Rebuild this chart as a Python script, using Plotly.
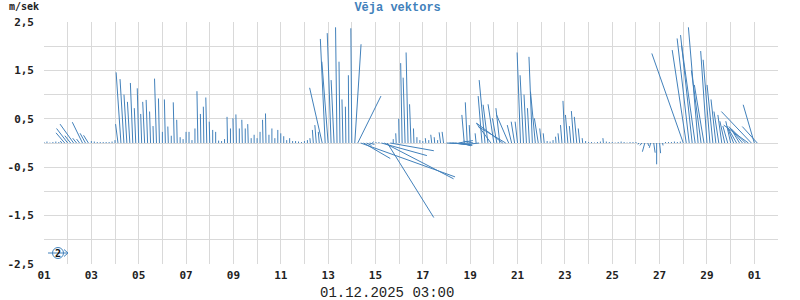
import pandas as pd
import plotly.graph_objects as go

# ---------------- data ----------------
START = "2025-11-01 00:00"   # first observation
STEP_H = 3                    # hours between observations

# northward component (m/s), 8 observations per day
V = [
    0.02, 0.03, 0.01, 0.02, 0.03, 0.02, 0.04, 0.21,   # 01
    0.30, 0.15, 0.39, 0.10, 0.08, 0.43, 0.20, 0.16,   # 02
    0.04, 0.03, 0.02, 0.02, 0.02, 0.02, 0.02, 0.03,   # 03
    0.06, 0.39, 1.46, 1.32, 1.00, 0.85, 1.24, 0.72,   # 04
    1.13, 0.60, 0.85, 0.89, 0.65, 0.35, 1.33, 0.92,   # 05
    0.23, 0.90, 0.34, 0.15, 0.84, 0.48, 0.12, 0.08,   # 06
    0.23, 0.23, 0.06, 0.30, 1.07, 0.60, 0.75, 0.94,   # 07
    0.44, 0.27, 0.23, 0.05, 0.04, 0.08, 0.54, 0.30,   # 08
    0.51, 0.59, 0.30, 0.48, 0.30, 0.39, 0.10, 0.17,   # 09
    0.10, 0.23, 0.48, 0.61, 0.17, 0.30, 0.10, 0.27,   # 10
    0.20, 0.14, 0.06, 0.10, 0.04, 0.04, 0.03, 0.02,   # 11
    0.04, 0.06, 0.10, 0.27, 0.37, 0.23, 1.14, 2.15,   # 12
    1.68, 2.27, 1.30, 2.39, 1.68, 0.90, 0.75, 1.40,   # 13
    2.37, 2.04, 0.97, -0.70, -0.32, -0.05, -0.03, 0.03,  # 14
    0.02, 0.02, -0.26, -0.74, -1.54, -0.16, 0.08, 0.20,  # 15
    0.50, 1.65, 1.35, 1.87, 0.80, 0.30, 0.12, 0.06,   # 16
    0.04, 0.10, 0.06, 0.17, 0.12, 0.06, 0.22, 0.23,   # 17
    -0.02, -0.03, -0.04, -0.05, 0.05, -0.06, 0.58, 0.84,  # 18
    0.37, 0.04, 0.20, -0.03, 0.97, 1.30, 0.79, 0.41,  # 19
    0.80, 0.51, 0.72, 0.41, 0.34, 0.58, 0.37, 0.44,   # 20
    0.44, 1.87, 1.40, 1.00, 0.72, 1.78, 1.06, 0.51,   # 21
    0.30, 0.20, 0.04, 0.03, 0.06, 0.13, 0.20, 0.37,   # 22
    0.87, 0.58, 0.35, 0.66, 0.54, 0.30, 0.10, 0.04,   # 23
    0.02, 0.02, 0.01, 0.02, 0.03, 0.10, 0.03, 0.02,   # 24
    0.02, 0.01, 0.02, 0.03, 0.02, 0.01, 0.02, 0.02,   # 25
    0.02, -0.03, -0.05, -0.18, -0.06, -0.10, -0.20, -0.44,  # 26
    -0.21, -0.05, 0.02, 0.02, 0.02, 0.03, 0.02, 0.03,  # 27
    1.85, 1.92, 2.16, 2.23, 2.02, 2.39, 1.50, 1.20,   # 28
    1.90, 1.72, 1.20, 0.90, 0.65, 0.58, 0.45, 0.35,   # 29
    0.45, 0.30, 0.35, 0.25, 0.34, 0.30, 0.37, 0.65,   # 30
    0.79, 0.34,                                       # 01.12
]

# eastward component (m/s)
U = [
    0, 0, 0, 0, 0, 0, -0.03, -0.18,
    -0.23, -0.12, -0.28, -0.08, -0.06, -0.21, -0.11, -0.10,
    0, 0, 0, 0, 0, 0, 0, 0,
    0, -0.05, -0.10, -0.08, -0.06, -0.05, -0.05, -0.03,
    -0.03, -0.02, -0.04, -0.03, -0.02, -0.01, -0.04, -0.02,
    0, -0.02, -0.01, 0, -0.02, -0.01, 0, 0,
    0, 0, 0, 0, -0.02, -0.01, -0.01, -0.02,
    -0.01, 0, 0, 0, 0, 0, -0.01, 0,
    -0.01, -0.01, 0, -0.01, 0, -0.01, 0, 0,
    0, 0, -0.01, -0.01, 0, 0, 0, 0,
    0, 0, 0, 0, 0, 0, 0, 0,
    0, 0, -0.01, -0.02, -0.03, -0.02, -0.26, -0.10,
    -0.13, -0.08, -0.06, -0.03, -0.02, -0.02, -0.01, -0.01,
    -0.02, 0.13, 0.48, 1.95, 0.55, 0.10, 0.10, 0.02,
    0.02, 0.02, 0.94, 1.43, 0.96, 0.90, 0, -0.01,
    -0.01, -0.03, -0.04, -0.04, -0.03, -0.01, 0, 0,
    0, -0.01, 0, -0.02, -0.01, 0, -0.03, -0.03,
    0.50, 0.45, 0.40, 0.35, 0.30, 0.20, -0.05, -0.04,
    -0.02, -0.20, -0.02, -0.25, -0.08, -0.12, -0.10, -0.30,
    -0.12, -0.09, -0.08, -0.54, -0.57, -0.25, -0.09, -0.07,
    -0.05, -0.07, -0.07, -0.05, -0.04, -0.07, -0.10, -0.08,
    -0.03, -0.02, 0, 0, 0, -0.01, -0.02, -0.03,
    -0.04, -0.05, -0.03, -0.05, -0.05, -0.03, -0.01, 0,
    0, 0, 0, 0, 0, -0.01, 0, 0,
    0, 0, 0, 0, 0, 0, 0, 0,
    0, -0.02, -0.04, -0.05, 0.02, -0.03, 0.03, 0,
    0.02, 0.01, 0, 0, 0, 0, 0, 0,
    -0.65, -0.29, -0.25, -0.24, -0.28, -0.20, -0.20, -0.20,
    -0.13, -0.14, -0.12, -0.10, -0.10, -0.08, -0.10, -0.10,
    -0.10, -0.12, -0.20, -0.15, -0.28, -0.30, -0.51, -0.62,
    -0.23, -0.31,
]

X_RANGE = ["2025-11-01", "2025-12-02"]
Y_TICKS = [-2.5, -1.5, -0.5, 0.5, 1.5, 2.5]
Y_TICKTEXT = ["-2,5", "-1,5", "-0,5", "0,5", "1,5", "2,5"]
TITLE = "Vēja vektors"
UNIT = "m/sek"
STAMP = "01.12.2025 03:00"
SCALE_LABEL = "2"

# ---------------- build sticks ----------------
LINE_COLOR = "#4281bb"
GRID = "#d9d9d9"
# horizontal scale: days of time axis per 1 m/s (isotropic with the y axis)
K = pd.Timedelta(days=2.044)

times = pd.date_range(START, periods=len(V), freq=f"{STEP_H}h")
xs, ys = [], []
for t, u, v in zip(times, U, V):
    xs += [t, t + K * u, None]
    ys += [0, v, None]

fig = go.Figure()
fig.add_trace(go.Scatter(x=xs, y=ys, mode="lines",
                         line=dict(color=LINE_COLOR, width=1),
                         hoverinfo="skip", showlegend=False))

tickfont = dict(family="DejaVu Sans Mono", size=11, color="#222222", weight="bold")

fig.update_layout(
    width=800, height=300,
    margin=dict(l=44, r=22, t=22, b=36, autoexpand=False),
    paper_bgcolor="white", plot_bgcolor="white",
    showlegend=False,
    title=dict(text=TITLE, x=0.497, xanchor="center", xref="container",
               y=0.977, yanchor="middle", yref="container",
               font=dict(family="Liberation Mono", size=12, color=LINE_COLOR, weight="bold")),
    xaxis=dict(type="date", range=X_RANGE, tick0="2025-11-01", dtick=2 * 86400000,
               tickformat="%d", showgrid=True, gridcolor=GRID, gridwidth=1,
               minor=dict(dtick=86400000, tick0="2025-11-01", showgrid=True,
                          gridcolor=GRID, gridwidth=1),
               zeroline=False, showline=False, ticks="", tickfont=tickfont,
               ticklabelstandoff=3, automargin=False, fixedrange=True),
    yaxis=dict(range=[-2.5, 2.5], tickvals=Y_TICKS, ticktext=Y_TICKTEXT,
               showgrid=True, gridcolor=GRID, gridwidth=1,
               minor=dict(dtick=0.5, tick0=0, showgrid=True, gridcolor=GRID, gridwidth=1),
               zeroline=False, showline=False, ticks="", tickfont=tickfont,
               ticklabelstandoff=9, automargin=False, fixedrange=True),
)

# unit label
fig.add_annotation(text=UNIT, xref="paper", yref="paper", x=-0.05, y=1.062,
                   xanchor="left", yanchor="middle", showarrow=False,
                   font=dict(family="DejaVu Sans Mono", size=10, color="#222222", weight="bold"))
# time stamp
fig.add_annotation(text=STAMP, xref="paper", yref="paper", x=0.467, y=-0.12,
                   xanchor="center", yanchor="middle", showarrow=False,
                   font=dict(family="Liberation Mono", size=14, color="#222222"))

# scale symbol (circle with arrow and label) in lower-left corner
px = lambda p: (p - 44) / 734.0
py = lambda p: (264 - p) / 242.0
fig.add_shape(type="circle", xref="paper", yref="paper",
              x0=px(52.5), x1=px(63.5), y0=py(258.5), y1=py(247.5),
              line=dict(color=LINE_COLOR, width=1))
fig.add_shape(type="line", xref="paper", yref="paper",
              x0=px(48), x1=px(68), y0=py(253), y1=py(253),
              line=dict(color=LINE_COLOR, width=1))
fig.add_shape(type="path", xref="paper", yref="paper",
              path=f"M {px(64)},{py(249.5)} L {px(68)},{py(253)} L {px(64)},{py(256.5)}",
              line=dict(color=LINE_COLOR, width=1))
fig.add_annotation(text=SCALE_LABEL, xref="paper", yref="paper", x=px(58), y=py(253),
                   xanchor="center", yanchor="middle", showarrow=False,
                   font=dict(family="DejaVu Sans Mono", size=10, color="#111111", weight="bold"))

fig.write_html("out.html")
